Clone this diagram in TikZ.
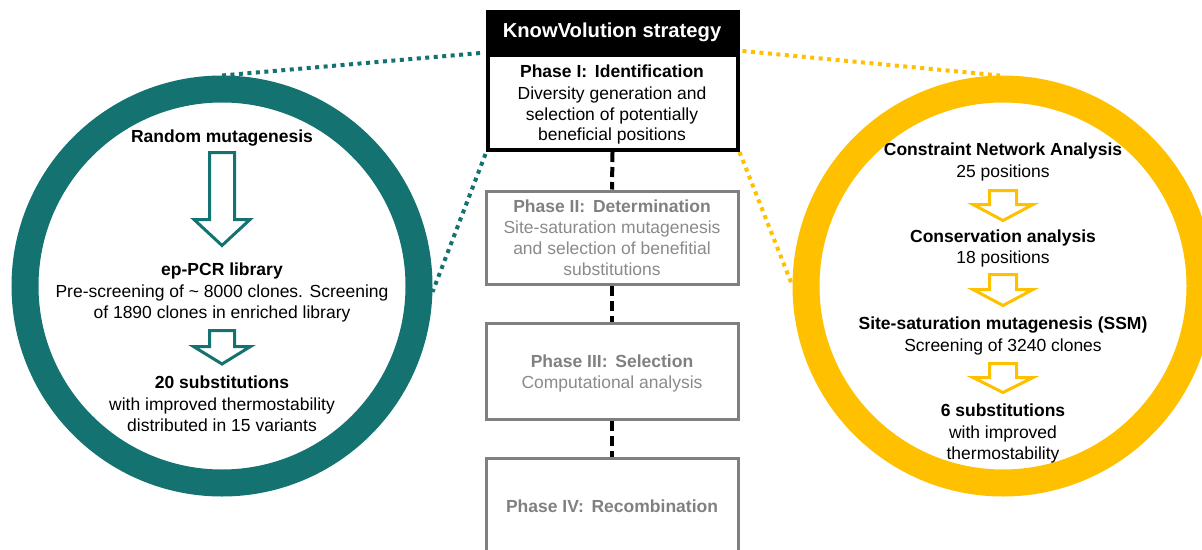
\documentclass[tikz,border=0pt]{standalone}
\usepackage{fontspec}
\setmainfont{Liberation Sans}
\definecolor{teal1}{RGB}{20,115,112}
\definecolor{gold1}{RGB}{255,192,0}
\definecolor{phgray}{RGB}{128,128,128}
\definecolor{txgray}{RGB}{138,138,138}
\begin{document}
\begin{tikzpicture}[x=1pt,y=-1pt,
  txt/.style={anchor=base, inner sep=0pt, font=\fontsize{17.5}{21}\selectfont},
  btxt/.style={anchor=base, inner sep=0pt, font=\fontsize{17.5}{21}\selectfont\bfseries},
  ring/.style={circle, draw=#1, line width=27pt, inner sep=0pt, minimum size=394pt},
  dotline/.style={draw=#1, line width=4pt, dash pattern=on 4pt off 4.5pt},
  blockarrow/.style={draw=#1, line width=3pt, fill=white, line join=miter},
  graybox/.style={rectangle, draw=phgray, line width=3pt, inner sep=0pt, minimum width=252pt},
  phasedash/.style={draw=black, line width=4pt, dash pattern=on 10pt off 5pt}
]
\useasboundingbox (0,0) rectangle (1202,549);
\clip (0,0) rectangle (1202,549);

% rings
\node[ring=teal1] (lc) at (222,286) {};
\node[ring=gold1] (rc) at (1003,286) {};

% central boxes
\node[rectangle, fill=black, inner sep=0pt, minimum width=254pt, minimum height=45pt] (hdr) at (612.5,32.5) {};
\node[rectangle, draw=black, line width=4pt, fill=white, inner sep=0pt, minimum width=250pt, minimum height=95pt] (p1) at (612.5,102.5) {};
\node[graybox, minimum height=93pt] (p2) at (612,237.5) {};
\node[graybox, minimum height=96pt] (p3) at (612,371) {};
\node[graybox, minimum height=102pt] (p4) at (612,509) {};

% dashed phase connectors
\draw[phasedash] (p1.south) -- (p2.north);
\draw[phasedash] (p2.south) -- (p3.north);
\draw[phasedash] (p3.south) -- (p4.north);

% dotted connectors
\draw[dotline=teal1] (lc.north) -- ([xshift=-5pt]p1.north west);
\draw[dotline=teal1] ([yshift=-2pt]p1.south west) -- ([yshift=-6pt]lc.east);
\draw[dotline=gold1] ([xshift=3pt,yshift=2pt]p1.north east) -- ([xshift=-3pt]rc.north);
\draw[dotline=gold1] (p1.south east) -- (rc.west);

% central texts
\node[btxt, text=white, font=\fontsize{20.2}{24}\selectfont\bfseries] (th) at (612,37) {KnowVolution strategy};
\node[btxt] (t1a) at (612,77) {Phase I:\, Identification};
\node[txt] (t1b) at (612,99) {Diversity generation and};
\node[txt] (t1c) at (612,120) {selection of potentially};
\node[txt] (t1d) at (612,140) {beneficial positions};

\node[btxt, text=phgray] (t2a) at (612,212) {Phase II:\, Determination};
\node[txt, text=txgray] (t2b) at (612,233) {Site-saturation mutagenesis};
\node[txt, text=txgray] (t2c) at (612,254) {and selection of benefitial};
\node[txt, text=txgray] (t2d) at (612,275) {substitutions};

\node[btxt, text=phgray] (t3a) at (612,367) {Phase III:\, Selection};
\node[txt, text=txgray] (t3b) at (612,388) {Computational analysis};

\node[btxt, text=phgray] (t4a) at (612,512) {Phase IV:\, Recombination};

% left circle content
\node[btxt] (l1) at (222,142) {Random mutagenesis};
\draw[blockarrow=teal1] (209.5,152.5) -- (234.5,152.5) -- (234.5,219.5) -- (250,219.5) -- (222,245.5) -- (194,219.5) -- (209.5,219.5) -- cycle;
\node[btxt] (l2) at (222,275) {ep-PCR library};
\node[txt] (l3) at (222,297) {Pre-screening of \textasciitilde\ 8000 clones. Screening};
\node[txt] (l4) at (222,318) {of 1890 clones in enriched library};
\draw[blockarrow=teal1] (209.5,330.5) -- (234.5,330.5) -- (234.5,346.5) -- (250.5,346.5) -- (222,364) -- (193.5,346.5) -- (209.5,346.5) -- cycle;
\node[btxt] (l5) at (222,388) {20 substitutions};
\node[txt] (l6) at (222,410) {with improved thermostability};
\node[txt] (l7) at (222,431) {distributed in 15 variants};

% right circle content
\node[btxt] (r1) at (1003,155) {Constraint Network Analysis};
\node[txt] (r2) at (1003,177) {25 positions};
\draw[blockarrow=gold1] (989.5,190.5) -- (1016.5,190.5) -- (1016.5,204.5) -- (1033,204.5) -- (1003,220.5) -- (973,204.5) -- (989.5,204.5) -- cycle;
\node[btxt] (r3) at (1003,242) {Conservation analysis};
\node[txt] (r4) at (1003,263) {18 positions};
\draw[blockarrow=gold1] (989.5,274.5) -- (1016.5,274.5) -- (1016.5,289.5) -- (1033,289.5) -- (1003,305.5) -- (973,289.5) -- (989.5,289.5) -- cycle;
\node[btxt] (r5) at (1003,329) {Site-saturation mutagenesis (SSM)};
\node[txt] (r6) at (1003,351) {Screening of 3240 clones};
\draw[blockarrow=gold1] (989.5,363.5) -- (1016.5,363.5) -- (1016.5,377.5) -- (1033,377.5) -- (1003,392.5) -- (973,377.5) -- (989.5,377.5) -- cycle;
\node[btxt] (r7) at (1003,416) {6 substitutions};
\node[txt] (r8) at (1003,438) {with improved};
\node[txt] (r9) at (1003,459) {thermostability};
\end{tikzpicture}
\end{document}
